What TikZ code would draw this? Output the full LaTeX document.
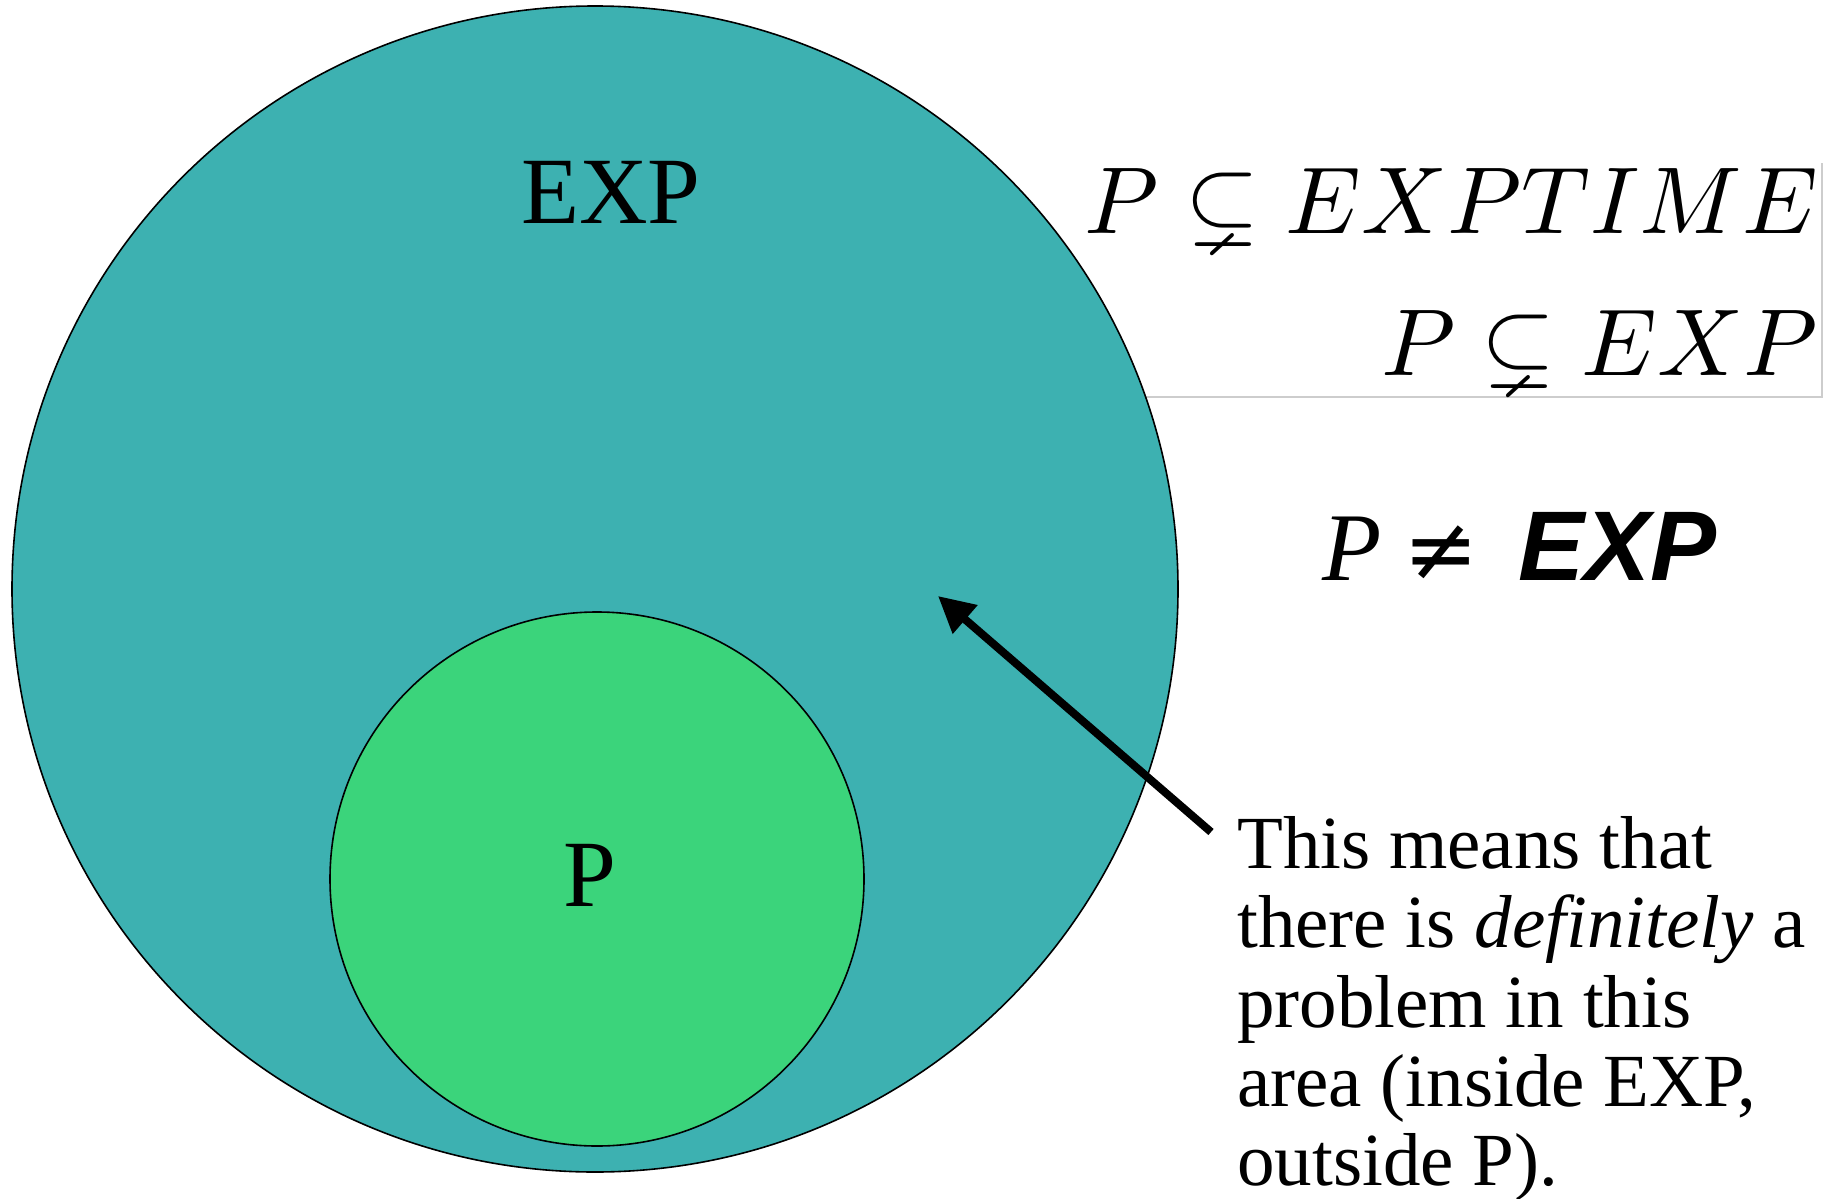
\documentclass[tikz,border=0pt]{standalone}
\usepackage{amssymb}
\usepackage{fontspec}
\DeclareFontFamily{OML}{cmm}{\skewchar\font'177}
\DeclareFontShape{OML}{cmm}{m}{it}{<-> cmmi10}{}
\DeclareFontFamily{OMS}{cmsy}{\skewchar\font'60}
\DeclareFontShape{OMS}{cmsy}{m}{n}{<-> cmsy10}{}
\setmainfont{Liberation Serif}
\newfontfamily\lsans{Liberation Sans}
\newfontfamily\djv{DejaVu Sans}
\usetikzlibrary{arrows.meta}
\definecolor{expcol}{RGB}{61,177,177}
\definecolor{pcol}{RGB}{59,212,123}
\definecolor{boxgray}{RGB}{205,205,205}
\tikzset{
  setcircle/.style={circle, draw=black, line width=1.6pt, inner sep=0pt},
  biglabel/.style={inner sep=0pt, anchor=base, font=\fontsize{95}{95}\selectfont},
  mathlabel/.style={inner sep=0pt, anchor=base east, font=\fontsize{95}{95}\selectfont},
  noteline/.style={inner sep=0pt, anchor=base west, font=\fontsize{75}{79}\selectfont},
  pointer/.style={line width=8pt, -{Triangle[length=36pt,width=36pt]}}
}
\begin{document}
\begin{tikzpicture}[x=1pt,y=-1pt]
\useasboundingbox (0,0) rectangle (1839,1199);
% frame of the formula image (partly hidden by the circle)
\draw[boxgray, line width=2pt] (1100,397) -- (1822,397) -- (1822,163);
% sets
\node[setcircle, fill=expcol, minimum size=1166pt] (exp) at (595,589) {};
\node[setcircle, fill=pcol, minimum size=534pt] (p) at (597,879) {};
\node[biglabel] (explabel) at (611,223) {EXP};
\node[biglabel] (plabel) at (590,906) {P};
% formulas
\node[mathlabel] (f1) at (1818,233) {$P\subsetneq EXPTIME$};
\node[mathlabel] (f2) at (1818,375) {$P\subsetneq EXP$};
\node[inner sep=0pt, anchor=base west] (neq) at (1322,580)
  {\fontsize{97}{97}\selectfont\itshape P\hspace{22pt}{\djv\upshape\fontsize{90}{90}\selectfont ≠}\hspace{40pt}{\lsans\bfseries\itshape\fontsize{99}{99}\selectfont EXP}};
% explanation
\node[noteline] (l1) at (1237,868) {This means that};
\node[noteline] (l2) at (1237,947) {there is \textit{definitely} a};
\node[noteline] (l3) at (1237,1027) {problem in this};
\node[noteline] (l4) at (1237,1106) {area (inside EXP,};
\node[noteline] (l5) at (1237,1185) {outside P).};
% pointer
\coordinate (tail) at (1211,832);
\coordinate (tip) at (938,596);
\draw[pointer] (tail) -- (tip);
\end{tikzpicture}
\end{document}
